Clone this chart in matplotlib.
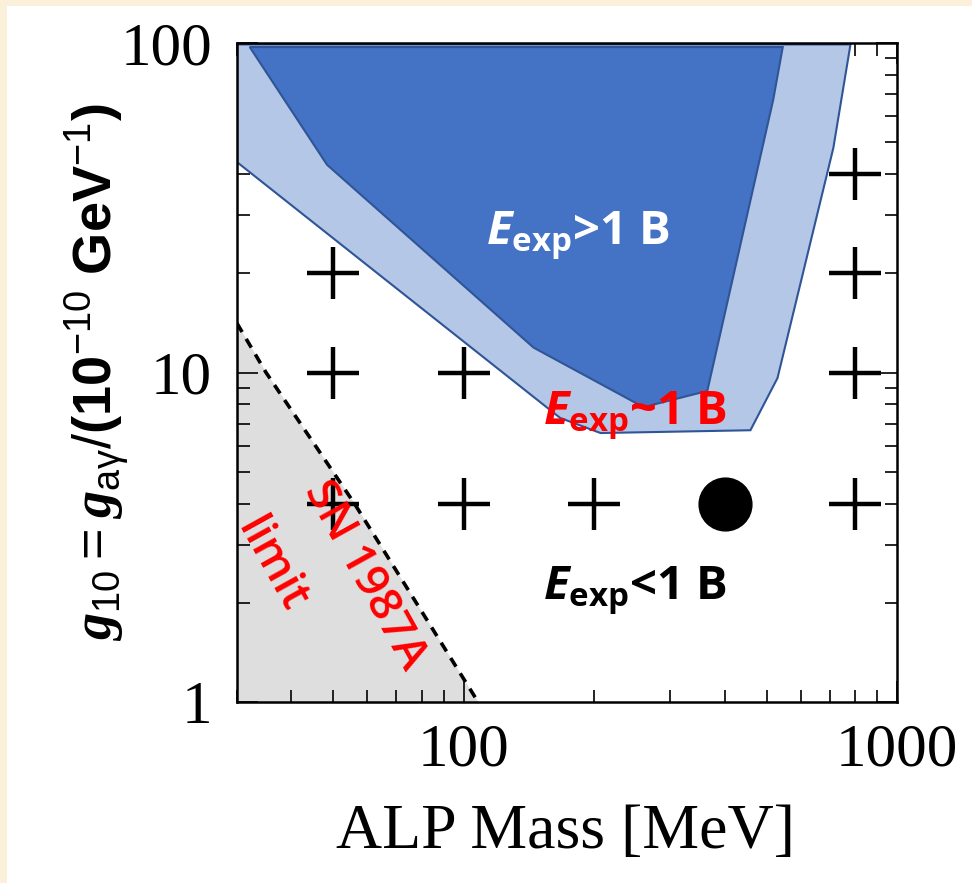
import matplotlib.pyplot as plt
from matplotlib.patches import Rectangle
from matplotlib.ticker import FixedLocator, FixedFormatter, LogLocator, NullFormatter

plt.rcParams['mathtext.fontset'] = 'custom'
plt.rcParams['mathtext.rm'] = 'Liberation Sans'
plt.rcParams['mathtext.bf'] = 'Open Sans:bold'
plt.rcParams['mathtext.it'] = 'Open Sans:italic:bold'
plt.rcParams['mathtext.sf'] = 'Liberation Serif:italic:bold'

# ALP mass [MeV] / coupling g10 boundaries
sn_mass = [30, 35, 56, 108]
sn_g10 = [14.1, 10, 4, 1]

# E_exp ~ 1 B band (outer contour)
band_mass = [30, 30, 167, 207, 459, 530, 713, 781]
band_g10 = [99, 43.5, 7.28, 6.55, 6.68, 9.62, 48, 99]

# E_exp > 1 B region
excl_mass = [32.1, 48.4, 145, 260, 365, 518, 545]
excl_g10 = [97.2, 42.7, 11.9, 7.85, 8.79, 67.2, 97.2]

# simulated points
sim_mass = [800, 50, 800, 50, 100, 800, 50, 100, 200, 800]
sim_g10 = [40, 20, 20, 10, 10, 10, 4, 4, 4, 4]
ref_mass = [400]
ref_g10 = [4]

x_ticks = [100, 1000]
x_labels = ['100', '1000']
y_ticks = [1, 10, 100]
y_labels = ['1', '10', '100']

fig = plt.figure(figsize=(9.72, 8.83), dpi=100)
fig.patch.set_facecolor('#FBF0D9')
fig.patches.append(Rectangle((7 / 972, 0), 1, 1 - 6 / 883, transform=fig.transFigure,
                             facecolor='white', edgecolor='none', zorder=-10))

ax = fig.add_axes([237 / 972, 1 - 702 / 883, (897 - 237) / 972, (702 - 43) / 883])
ax.set_zorder(1)
ax.set_xscale('log')
ax.set_yscale('log')
ax.set_xlim(30, 1000)
ax.set_ylim(1, 100)

# SN 1987A excluded area
ax.fill_between(sn_mass, sn_g10, 1, color='#DEDEDE', lw=0, zorder=1)
ax.plot(sn_mass, sn_g10, ls=(0, (2.8, 2.2)), color='black', lw=2.6, zorder=2)

ax.fill(band_mass, band_g10, facecolor='#B4C7E7', edgecolor='#2F5597', lw=1.5, zorder=3)
ax.fill(excl_mass, excl_g10, facecolor='#4472C4', edgecolor='#2F5597', lw=1.5, zorder=4)

ax.plot(sim_mass, sim_g10, ls='none', marker='+', ms=38, mew=3.2, color='black', zorder=5)
ax.plot(ref_mass, ref_g10, ls='none', marker='o', ms=38, color='black', zorder=5)

lbl = dict(fontsize=34, family=['Open Sans', 'DejaVu Sans'], fontweight='bold',
           ha='center', va='baseline', zorder=6)
ax.text(184, 24.4, r'$E_{\mathbf{exp}}$>1 B', color='white', **lbl)
ax.text(249, 6.93, r'$E_{\mathbf{exp}}$~1 B', color='red', **lbl)
ax.text(249, 2.04, r'$E_{\mathbf{exp}}$<1 B', color='black', **lbl)

sn = dict(color='red', fontsize=33, family='Open Sans', fontweight='semibold', rotation=-61,
          rotation_mode='anchor', ha='center', va='center', zorder=6)
ax.text(59, 2.43, 'SN 1987A', **sn)
ax.text(35.8, 2.6, 'limit', **sn)

for s in ax.spines.values():
    s.set_linewidth(1.8)
    s.set_zorder(7)
ax.xaxis.set_major_locator(FixedLocator(x_ticks))
ax.xaxis.set_major_formatter(FixedFormatter(x_labels))
ax.yaxis.set_major_locator(FixedLocator(y_ticks))
ax.yaxis.set_major_formatter(FixedFormatter(y_labels))
ax.xaxis.set_minor_locator(LogLocator(base=10, subs=range(2, 10), numticks=10))
ax.yaxis.set_minor_locator(LogLocator(base=10, subs=range(2, 10), numticks=10))
ax.xaxis.set_minor_formatter(NullFormatter())
ax.yaxis.set_minor_formatter(NullFormatter())
ax.tick_params(which='both', direction='in', top=True, right=True, width=1.2)
ax.tick_params(which='major', length=15, labelsize=44)
ax.tick_params(which='minor', length=9)
for lab in ax.get_xticklabels() + ax.get_yticklabels():
    lab.set_family('Liberation Serif')
ax.tick_params(axis='x', which='major', pad=15)
ax.tick_params(axis='y', which='major', pad=18)

fig.text(565 / 972, 1 - 833 / 883, 'ALP Mass [MeV]', family='Liberation Serif', fontsize=46,
         ha='center', va='center')
fig.text(97 / 972, 1 - 372 / 883,
         r'$\mathsf{g}_{\mathrm{10}}\mathrm{=}\mathsf{g}_{\mathrm{a\gamma}}\mathrm{/}$'
         r'(10$^{\mathrm{-10}}$ GeV$^{\mathrm{-1}}$)',
         family='Liberation Sans', fontweight='bold', fontsize=39, rotation=90,
         ha='center', va='center')

fig.savefig('out.png', dpi=100, facecolor=fig.get_facecolor())
